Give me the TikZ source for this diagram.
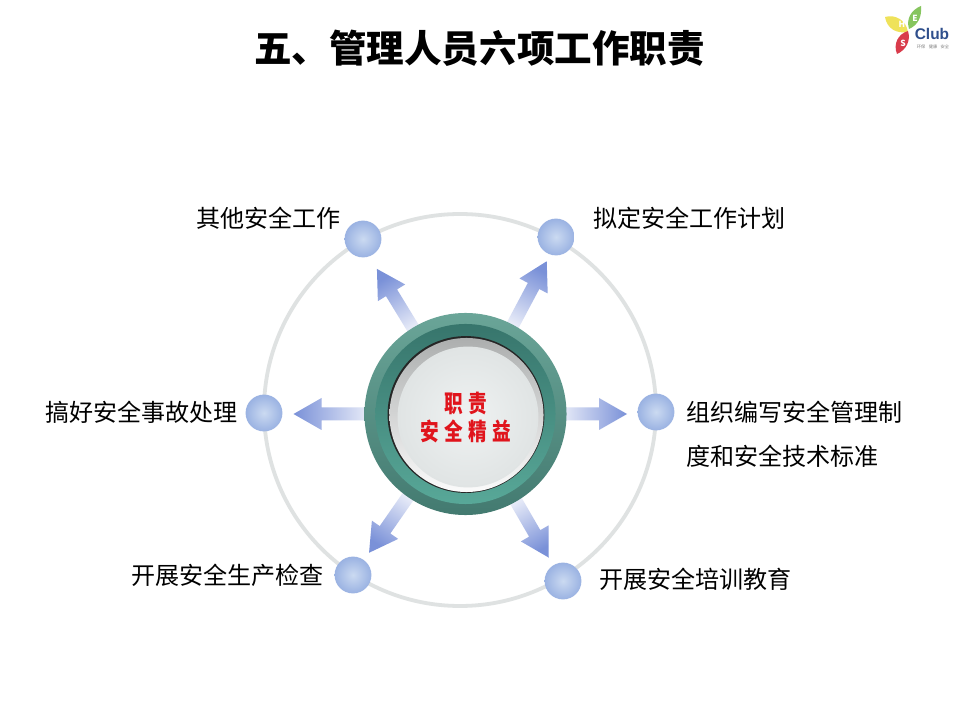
\documentclass[tikz,border=0pt]{standalone}
\usepackage{fontspec}
\setmainfont{Noto Sans CJK SC}
\newfontfamily\latinbold{Liberation Sans}
\definecolor{ringgray}{HTML}{DFE2E2}
\definecolor{arrowtip}{HTML}{7A91D8}
\definecolor{arrowtail}{HTML}{F2F4FB}
\definecolor{clubblue}{HTML}{2F4F8C}
\definecolor{satlight}{HTML}{CBDAF1}
\definecolor{satedge}{HTML}{9AB2E2}
\definecolor{rimlight}{HTML}{6AA598}
\definecolor{rimdark}{HTML}{437A70}
\definecolor{banddark}{HTML}{37756C}
\definecolor{bandlight}{HTML}{58A898}
\definecolor{diskdark}{HTML}{ACAEAE}
\definecolor{disklight}{HTML}{FBFBFB}
\definecolor{glasscore}{HTML}{EFF2F2}
\definecolor{glassedge}{HTML}{E0E4E4}
\definecolor{dutyred}{HTML}{E0141C}
\definecolor{leafyellow}{HTML}{EFE25A}
\definecolor{leafgreen}{HTML}{86C55E}
\definecolor{leafred}{HTML}{D93B4B}
\tikzset{
    satball/.style={circle,inner sep=0pt,minimum size=.92cm,inner color=satlight,outer color=satedge},
    duty/.style={inner sep=0pt,font=\fontsize{17.1}{20}\selectfont,text=black},
    leafname/.style={inner sep=0pt,font=\fontsize{6}{6}\selectfont\bfseries,text=white},
    hublayer/.style={circle,inner sep=0pt,shading angle=45},
}
\begin{document}
\begin{tikzpicture}[x=0.025cm,y=-0.025cm]
    \useasboundingbox (0,0) rectangle (960,720);
    \fill[white] (0,0) rectangle (960,720);
    % big ring behind everything
    \coordinate (ringc) at (460,410);
    \draw[ringgray,line width=.095cm] (ringc) circle[radius=196];
    \coordinate (hubc) at (465.5,414);
    % arrows: angle/length from the hub
    \foreach \ang/\len in {121.4/170,62/173,180/172,0/161.5,235.2/169,300.1/166} {
        \pgfmathsetmacro{\sh}{\ang-90}
        \begin{scope}[shift={(hubc)},rotate=\ang]
            \path[top color=arrowtip,bottom color=arrowtail,shading angle=\sh]
                (90,-6.5)--(\len-28,-6.5)--(\len-28,-16)--(\len,0)--(\len-28,16)--(\len-28,6.5)--(90,6.5)--cycle;
        \end{scope}
    }
    % hub
    \node[hublayer,minimum size=5.05cm,top color=rimlight,bottom color=rimdark] (hub) at (hubc) {};
    \node[hublayer,minimum size=4.5cm,top color=banddark,bottom color=bandlight] (hubband) at (hubc) {};
    \node[circle,inner sep=0pt,minimum size=3.92cm,fill=black!85] (hubline) at (466,414.5) {};
    \node[hublayer,minimum size=3.85cm,top color=diskdark,bottom color=disklight] (hubdisk) at (466.5,415) {};
    \node[circle,inner sep=0pt,minimum size=3.52cm,inner color=glasscore,outer color=glassedge] (hubglass) at (468,417) {};
    \node[inner sep=0pt,align=center,text=dutyred,font=\fontsize{17}{20.6}\selectfont\bfseries,xscale=.78] (hubtext) at (466,417.5)
        {职\hspace{.29em}责\\安\hspace{.29em}全\hspace{.29em}精\hspace{.29em}益};
    % satellites
    \node[satball] (satnw) at (363,239) {};
    \node[satball] (satne) at (556,237) {};
    \node[satball] (satw) at (264,413) {};
    \node[satball] (sate) at (656,412) {};
    \node[satball] (satsw) at (353,575) {};
    \node[satball] (satse) at (563,581) {};
    % labels
    \node[duty,anchor=east] (labnw) at (341,218) {其他安全工作};
    \node[duty,anchor=west] (labne) at (593,218) {拟定安全工作计划};
    \node[duty,anchor=east] (labw) at (238,412) {搞好安全事故处理};
    \node[duty,anchor=west] (labe) at (686,412) {组织编写安全管理制};
    \node[duty,anchor=west] (labee) at (686,456) {度和安全技术标准};
    \node[duty,anchor=east] (labsw) at (324,575) {开展安全生产检查};
    \node[duty,anchor=west] (labse) at (599,579) {开展安全培训教育};
    \node[inner sep=0pt,font=\fontsize{26.7}{30}\selectfont\bfseries] (title) at (479.5,48) {五、管理人员六项工作职责};
    % logo
    \fill[leafyellow] (885,17) .. controls (895,14) and (906,20) .. (908,32) .. controls (897,34) and (887,29) .. (885,17) -- cycle;
    \fill[leafgreen] (921,6) .. controls (922,17) and (918,25) .. (909,29) .. controls (906,19) and (911,10) .. (921,6) -- cycle;
    \fill[leafred] (908,31) .. controls (911,41) and (906,50) .. (897,54) .. controls (893,44) and (898,34) .. (908,31) -- cycle;
    \node[leafname] (leafh) at (902,24) {H};
    \node[leafname] (leafe) at (915,18) {E};
    \node[leafname] (leafs) at (903,43) {S};
    \node[inner sep=0pt,text=clubblue,font=\fontsize{11}{11}\selectfont\latinbold\bfseries] (club) at (932,34) {Club};
    \node[inner sep=0pt,text=gray,font=\fontsize{3}{3}\selectfont] (clubsub) at (933,47) {环保\hspace{.8em}健康\hspace{.8em}安全};
\end{tikzpicture}
\end{document}
